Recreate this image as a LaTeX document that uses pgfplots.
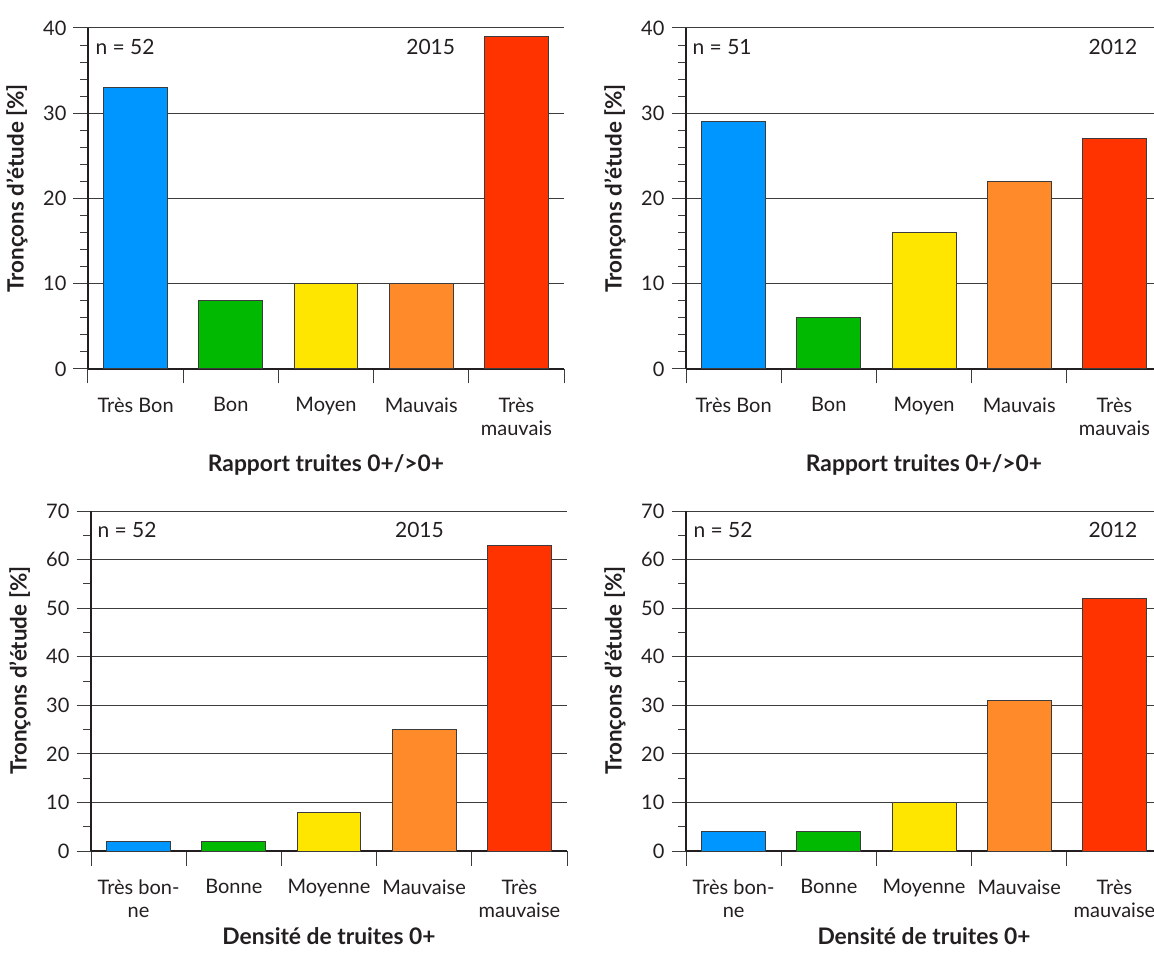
\documentclass[border=0pt]{standalone}
\usepackage{pgfplots}
\pgfplotsset{compat=1.18}
\usepackage{fontspec}
\setmainfont{Lato}
\definecolor{textc}{HTML}{231F20}
\definecolor{cblue}{HTML}{0096FF}
\definecolor{cgreen}{HTML}{00B900}
\definecolor{cyellow}{HTML}{FFE600}
\definecolor{corange}{HTML}{FF8A2A}
\definecolor{cred}{HTML}{FF3300}
\definecolor{gridc}{HTML}{3C3C3C}
\tikzset{ann/.style={font=\fontsize{10.5}{12}\selectfont, inner sep=0pt}}
\pgfplotsset{
  panel/.style={
    scale only axis,
    width=238pt,
    anchor=south west,
    font=\fontsize{10}{11.5}\selectfont,
    /pgf/number format/assume math mode=true,
    axis x line=bottom,
    axis y line=left,
    axis line style={-, draw=textc},
    x axis line style={line width=0.9pt},
    y axis line style={line width=0.6pt},
    xmin=-0.5, xmax=4.5,
    ymin=0,
    xtick={-0.5,0.5,...,4.5},
    tick align=outside,
    major tick length=7.25pt,
    minor tick length=4pt,
    tick style={draw=gridc, line width=0.5pt},
    xticklabel style={xshift=23.8pt, align=center, anchor=north, yshift=-3.5pt},
    ymajorgrids,
    major grid style={draw=gridc, line width=0.5pt},
    ylabel={\bfseries Tronçons d'étude [\%]},
    ylabel style={font=\fontsize{11.2}{13}\selectfont, at={(axis description cs:-0.112,0.53)}, anchor=south},
    ybar, bar width=0.672, bar shift=0pt,
    every axis plot/.append style={draw=gridc, line width=0.5pt},
    clip=false,
  },
  toprow/.style={panel, height=170.5pt, ymax=40, ytick={0,10,...,40}, minor y tick num=4,
    xticklabels={Très Bon,Bon,Moyen,Mauvais,{Très\\mauvais},{}},
    xlabel={\bfseries Rapport truites 0+/>0+},
    xlabel style={font=\fontsize{11.4}{13}\selectfont, at={(axis description cs:0.5,-0.302)}, anchor=base}},
  botrow/.style={panel, height=170pt, ymax=70, ytick={0,10,...,70}, minor y tick num=1,
    xticklabels={{Très bon-\\ne},Bonne,Moyenne,Mauvaise,{Très\\mauvaise},{}},
    xlabel={\bfseries Densité de truites 0+},
    xlabel style={font=\fontsize{11.4}{13}\selectfont, at={(axis description cs:0.5,-0.275)}, anchor=base}},
}
\begin{document}
\color{textc}
\begin{tikzpicture}
\useasboundingbox (0,0) rectangle (577pt,476.5pt);
\clip (0,0) rectangle (577pt,476.5pt);
% top-left
\begin{axis}[toprow, at={(44pt,292pt)}]
\addplot[fill=cblue] coordinates {(0,33)};
\addplot[fill=cgreen] coordinates {(1,8)};
\addplot[fill=cyellow] coordinates {(2,10)};
\addplot[fill=corange] coordinates {(3,10)};
\addplot[fill=cred] coordinates {(4,39)};
\node[ann, anchor=west] at (rel axis cs:0.015,0.944) {n = 52};
\node[ann] at (rel axis cs:0.72,0.944) {2015};
\end{axis}
% top-right
\begin{axis}[toprow, at={(343pt,292pt)}]
\addplot[fill=cblue] coordinates {(0,29)};
\addplot[fill=cgreen] coordinates {(1,6)};
\addplot[fill=cyellow] coordinates {(2,16)};
\addplot[fill=corange] coordinates {(3,22)};
\addplot[fill=cred] coordinates {(4,27)};
\node[ann, anchor=west] at (rel axis cs:0.013,0.944) {n = 51};
\node[ann] at (rel axis cs:0.897,0.944) {2012};
\end{axis}
% bottom-left
\begin{axis}[botrow, at={(45.5pt,51pt)}]
\addplot[fill=cblue] coordinates {(0,2)};
\addplot[fill=cgreen] coordinates {(1,2)};
\addplot[fill=cyellow] coordinates {(2,8)};
\addplot[fill=corange] coordinates {(3,25)};
\addplot[fill=cred] coordinates {(4,63)};
\node[ann, anchor=west] at (rel axis cs:0.013,0.944) {n = 52};
\node[ann] at (rel axis cs:0.69,0.944) {2015};
\end{axis}
% bottom-right
\begin{axis}[botrow, at={(343pt,51pt)}]
\addplot[fill=cblue] coordinates {(0,4)};
\addplot[fill=cgreen] coordinates {(1,4)};
\addplot[fill=cyellow] coordinates {(2,10)};
\addplot[fill=corange] coordinates {(3,31)};
\addplot[fill=cred] coordinates {(4,52)};
\node[ann, anchor=west] at (rel axis cs:0.015,0.944) {n = 52};
\node[ann] at (rel axis cs:0.897,0.944) {2012};
\end{axis}
\end{tikzpicture}
\end{document}
